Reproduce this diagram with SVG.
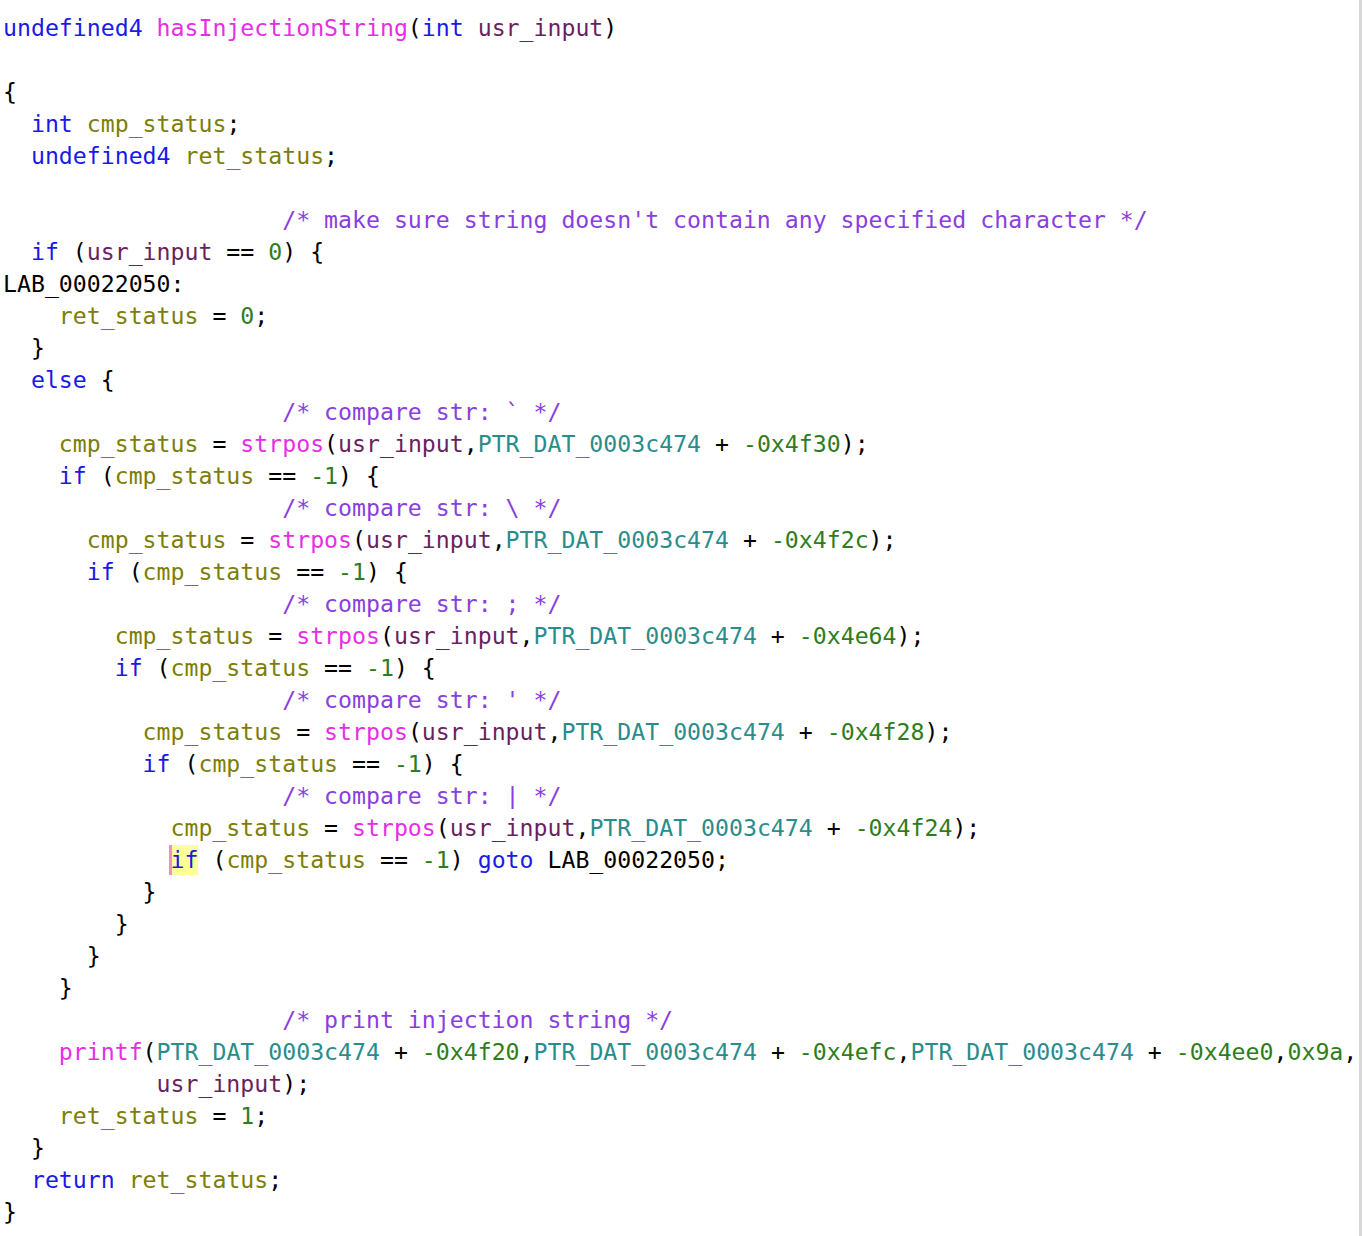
<svg xmlns="http://www.w3.org/2000/svg" width="1362" height="1236" viewBox="0 0 1362 1236">
<style>
text{font-family:"DejaVu Sans Mono","Liberation Mono",monospace;font-size:23.2px;fill:#000;white-space:pre}
.k{fill:#1a1ae6}.f{fill:#e62ee6}.p{fill:#6b1f5f}.v{fill:#7d7d0a}.c{fill:#8a3ee0}.n{fill:#2e7d1a}.d{fill:#2a8c8c}
</style>
<rect width="1362" height="1236" fill="#fff"/>
<rect x="1359" y="0" width="3" height="1236" fill="#d8d8d8"/>
<rect x="169" y="845" width="29" height="30" fill="#ffff99"/>
<rect x="169" y="845" width="3" height="30" fill="#f090c0"/>
<g id="code" xml:space="preserve">
<text x="3" y="36"><tspan class="k">undefined4</tspan> <tspan class="f">hasInjectionString</tspan>(<tspan class="k">int</tspan> <tspan class="p">usr_input</tspan>)</text>
<text x="3" y="100">{</text>
<text x="3" y="132">  <tspan class="k">int</tspan> <tspan class="v">cmp_status</tspan>;</text>
<text x="3" y="164">  <tspan class="k">undefined4</tspan> <tspan class="v">ret_status</tspan>;</text>
<text x="3" y="228">                    <tspan class="c">/* make sure string doesn't contain any specified character */</tspan></text>
<text x="3" y="260">  <tspan class="k">if</tspan> (<tspan class="p">usr_input</tspan> == <tspan class="n">0</tspan>) {</text>
<text x="3" y="292">LAB_00022050:</text>
<text x="3" y="324">    <tspan class="v">ret_status</tspan> = <tspan class="n">0</tspan>;</text>
<text x="3" y="356">  }</text>
<text x="3" y="388">  <tspan class="k">else</tspan> {</text>
<text x="3" y="420">                    <tspan class="c">/* compare str: ` */</tspan></text>
<text x="3" y="452">    <tspan class="v">cmp_status</tspan> = <tspan class="f">strpos</tspan>(<tspan class="p">usr_input</tspan>,<tspan class="d">PTR_DAT_0003c474</tspan> + <tspan class="n">-0x4f30</tspan>);</text>
<text x="3" y="484">    <tspan class="k">if</tspan> (<tspan class="v">cmp_status</tspan> == <tspan class="n">-1</tspan>) {</text>
<text x="3" y="516">                    <tspan class="c">/* compare str: \ */</tspan></text>
<text x="3" y="548">      <tspan class="v">cmp_status</tspan> = <tspan class="f">strpos</tspan>(<tspan class="p">usr_input</tspan>,<tspan class="d">PTR_DAT_0003c474</tspan> + <tspan class="n">-0x4f2c</tspan>);</text>
<text x="3" y="580">      <tspan class="k">if</tspan> (<tspan class="v">cmp_status</tspan> == <tspan class="n">-1</tspan>) {</text>
<text x="3" y="612">                    <tspan class="c">/* compare str: ; */</tspan></text>
<text x="3" y="644">        <tspan class="v">cmp_status</tspan> = <tspan class="f">strpos</tspan>(<tspan class="p">usr_input</tspan>,<tspan class="d">PTR_DAT_0003c474</tspan> + <tspan class="n">-0x4e64</tspan>);</text>
<text x="3" y="676">        <tspan class="k">if</tspan> (<tspan class="v">cmp_status</tspan> == <tspan class="n">-1</tspan>) {</text>
<text x="3" y="708">                    <tspan class="c">/* compare str: ' */</tspan></text>
<text x="3" y="740">          <tspan class="v">cmp_status</tspan> = <tspan class="f">strpos</tspan>(<tspan class="p">usr_input</tspan>,<tspan class="d">PTR_DAT_0003c474</tspan> + <tspan class="n">-0x4f28</tspan>);</text>
<text x="3" y="772">          <tspan class="k">if</tspan> (<tspan class="v">cmp_status</tspan> == <tspan class="n">-1</tspan>) {</text>
<text x="3" y="804">                    <tspan class="c">/* compare str: | */</tspan></text>
<text x="3" y="836">            <tspan class="v">cmp_status</tspan> = <tspan class="f">strpos</tspan>(<tspan class="p">usr_input</tspan>,<tspan class="d">PTR_DAT_0003c474</tspan> + <tspan class="n">-0x4f24</tspan>);</text>
<text x="3" y="868">            <tspan class="k">if</tspan> (<tspan class="v">cmp_status</tspan> == <tspan class="n">-1</tspan>) <tspan class="k">goto</tspan> LAB_00022050;</text>
<text x="3" y="900">          }</text>
<text x="3" y="932">        }</text>
<text x="3" y="964">      }</text>
<text x="3" y="996">    }</text>
<text x="3" y="1028">                    <tspan class="c">/* print injection string */</tspan></text>
<text x="3" y="1060">    <tspan class="f">printf</tspan>(<tspan class="d">PTR_DAT_0003c474</tspan> + <tspan class="n">-0x4f20</tspan>,<tspan class="d">PTR_DAT_0003c474</tspan> + <tspan class="n">-0x4efc</tspan>,<tspan class="d">PTR_DAT_0003c474</tspan> + <tspan class="n">-0x4ee0</tspan>,<tspan class="n">0x9a</tspan>,</text>
<text x="3" y="1092">           <tspan class="p">usr_input</tspan>);</text>
<text x="3" y="1124">    <tspan class="v">ret_status</tspan> = <tspan class="n">1</tspan>;</text>
<text x="3" y="1156">  }</text>
<text x="3" y="1188">  <tspan class="k">return</tspan> <tspan class="v">ret_status</tspan>;</text>
<text x="3" y="1220">}</text>
</g>
</svg>
